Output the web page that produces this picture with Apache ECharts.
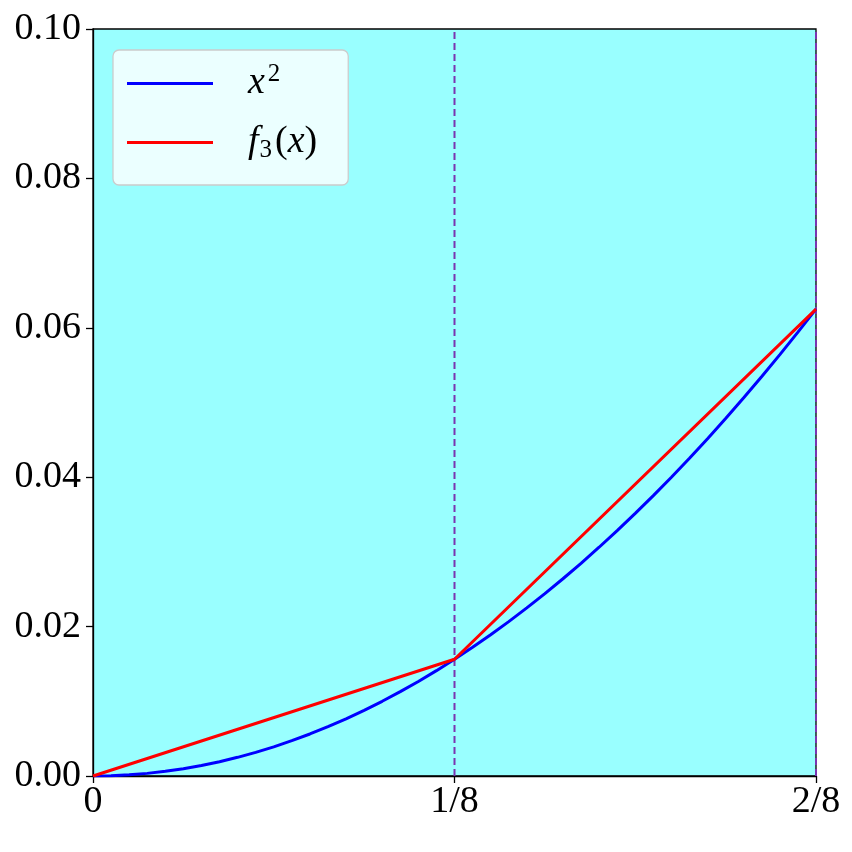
<!DOCTYPE html>
<html>
<head>
<meta charset="utf-8">
<script src="https://cdn.jsdelivr.net/npm/echarts@6/dist/echarts.min.js"></script>
<style>html,body{margin:0;padding:0;background:#fff}#c{width:852px;height:852px}</style>
</head>
<body>
<div id="c"></div>
<script>
// Data
var xTicks = [0, 0.125, 0.25];
var xTickLabels = ['0', '1/8', '2/8'];
var curveX = [0, 0.00625, 0.0125, 0.01875, 0.025, 0.03125, 0.0375, 0.04375, 0.05, 0.05625, 0.0625,
              0.06875, 0.075, 0.08125, 0.0875, 0.09375, 0.1, 0.10625, 0.1125, 0.11875, 0.125,
              0.13125, 0.1375, 0.14375, 0.15, 0.15625, 0.1625, 0.16875, 0.175, 0.18125, 0.1875,
              0.19375, 0.2, 0.20625, 0.2125, 0.21875, 0.225, 0.23125, 0.2375, 0.24375, 0.25];
var curveY = [0, 0.0000391, 0.0001563, 0.0003516, 0.000625, 0.0009766, 0.0014063, 0.0019141, 0.0025, 0.0031641, 0.0039063,
              0.0047266, 0.005625, 0.0066016, 0.0076563, 0.0087891, 0.01, 0.0112891, 0.0126563, 0.0141016, 0.015625,
              0.0172266, 0.0189063, 0.0206641, 0.0225, 0.0244141, 0.0264063, 0.0284766, 0.030625, 0.0328516, 0.0351563,
              0.0375391, 0.04, 0.0425391, 0.0451563, 0.0478516, 0.050625, 0.0534766, 0.0564063, 0.0594141, 0.0625];
var f3X = [0, 0.125, 0.25];
var f3Y = [0, 0.015625, 0.0625];
var dividerX = [0.125, 0.25];
var yRange = [0, 0.1];

var font = '"Liberation Serif", "DejaVu Serif", serif';
var chart = echarts.init(document.getElementById('c'), null, {renderer: 'canvas'});

function pairs(xs, ys) { return xs.map(function (x, i) { return [x, ys[i]]; }); }

var series = [
  {name: 'x2', type: 'line', data: pairs(curveX, curveY), showSymbol: false, symbol: 'none', smooth: false,
   lineStyle: {color: '#0000ff', width: 3}, itemStyle: {color: '#0000ff'}, z: 3},
  {name: 'f3', type: 'line', data: pairs(f3X, f3Y), showSymbol: false, symbol: 'none',
   lineStyle: {color: '#ff0000', width: 3}, itemStyle: {color: '#ff0000'}, z: 4}
];
dividerX.forEach(function (dx, i) {
  series.push({name: 'div' + i, type: 'line', data: [[dx, yRange[0]], [dx, yRange[1]]], showSymbol: false, symbol: 'none',
    lineStyle: {color: '#7b35b0', width: 2, type: [7, 4]}, z: 2, silent: true});
});

var option = {
  animation: false,
  backgroundColor: '#ffffff',
  grid: {left: 93, right: 36, top: 29, bottom: 76, show: true, backgroundColor: '#99ffff', borderColor: '#000', borderWidth: 1.3},
  xAxis: {
    type: 'value', min: 0, max: 0.25, interval: 0.125,
    axisLine: {show: true, lineStyle: {color: '#000', width: 1.3}},
    axisTick: {show: true, inside: false, length: 7, lineStyle: {color: '#000', width: 1.3}},
    splitLine: {show: false},
    axisLabel: {
      color: '#000', fontFamily: font, fontSize: 38, margin: 7,
      formatter: function (v) {
        for (var i = 0; i < xTicks.length; i++) if (Math.abs(v - xTicks[i]) < 1e-9) return xTickLabels[i];
        return '';
      }
    }
  },
  yAxis: {
    type: 'value', min: yRange[0], max: yRange[1], interval: 0.02,
    axisLine: {show: true, lineStyle: {color: '#000', width: 1.3}},
    axisTick: {show: true, inside: false, length: 7, lineStyle: {color: '#000', width: 1.3}},
    splitLine: {show: false},
    axisLabel: {
      color: '#000', fontFamily: font, fontSize: 38, margin: 12,
      formatter: function (v) { return v.toFixed(2); }
    }
  },
  legend: {
    left: 113, top: 50, orient: 'vertical',
    padding: [12, 31, 22, 14],
    itemGap: 21,
    itemWidth: 86, itemHeight: 3,
    icon: 'rect',
    backgroundColor: 'rgba(255,255,255,0.8)',
    borderColor: '#cccccc', borderWidth: 1.3, borderRadius: 6,
    data: ['x2', 'f3'],
    formatter: function (name) {
      if (name === 'x2') return '{i|x}{sup|2}';
      return '{i|f}{sub|3}{n|(}{i|x}{n|)}';
    },
    textStyle: {
      color: '#000', fontFamily: font, fontSize: 38, padding: [0, 0, 0, 30],
      rich: {
        i: {fontFamily: font, fontStyle: 'italic', fontSize: 38, height: 40, color: '#000'},
        n: {fontFamily: font, fontSize: 38, height: 40, color: '#000'},
        sup: {fontFamily: font, fontSize: 25, verticalAlign: 'top', padding: [0, 0, 18, 3], height: 40, color: '#000'},
        sub: {fontFamily: font, fontSize: 25, verticalAlign: 'bottom', padding: [16, 3, 0, 1], height: 40, color: '#000'}
      }
    }
  },
  series: series
};
chart.setOption(option);
</script>
</body>
</html>
